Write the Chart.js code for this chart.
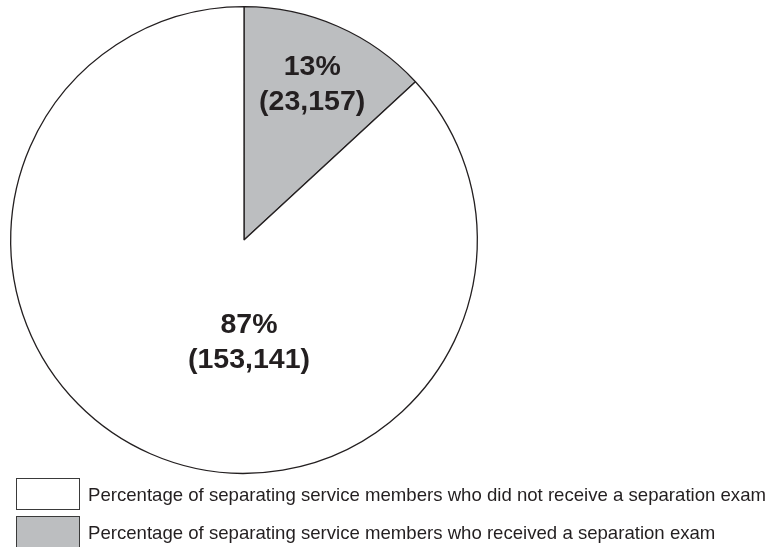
<!DOCTYPE html>
<html>
<head>
<meta charset="utf-8">
<script src="https://cdn.jsdelivr.net/npm/chart.js@4"></script>
<style>
  html, body { margin: 0; padding: 0; background: #ffffff; }
  #wrap { position: relative; width: 771px; height: 547px; overflow: hidden; }
  #c { position: absolute; left: 0; top: 0; }
  .lg-row { position: absolute; left: 16px; height: 32px; display: flex; align-items: center; }
  .lg-box { width: 62px; height: 30px; border: 1.5px solid #3a3a3a; box-sizing: content-box; }
  .lg-text { margin-left: 8px; font-family: "Liberation Sans", Arial, sans-serif; font-size: 18.6px; color: #231f20; white-space: nowrap; position: relative; top: 1px; }
</style>
</head>
<body>
<div id="wrap">
  <canvas id="c" width="771" height="547"></canvas>
  <div id="legend"></div>
</div>
<script>
// ---- data ----
const categories = [
  'Percentage of separating service members who received a separation exam',
  'Percentage of separating service members who did not receive a separation exam'
];
const counts = [23157, 153141];
const percentLabels = ['13%', '87%'];
const countLabels = ['(23,157)', '(153,141)'];
const legendOrder = [1, 0];

// ---- styles ----
const fillColors = ['#bcbec0', '#ffffff'];
const edgeColor = '#231f20';
// label placement: [angle from top (deg, clockwise), fraction of radius]
const labelPlacement = [[23.6, 0.73], [177.2, 0.438]];

const labelPlugin = {
  id: 'sliceLabels',
  afterDatasetsDraw(chart) {
    const ctx = chart.ctx;
    const meta = chart.getDatasetMeta(0);
    ctx.save();
    ctx.fillStyle = '#231f20';
    ctx.font = 'bold 28.5px "Liberation Sans", Arial, sans-serif';
    ctx.textAlign = 'center';
    ctx.textBaseline = 'middle';
    meta.data.forEach((arc, i) => {
      const [deg, frac] = labelPlacement[i];
      const a = deg * Math.PI / 180;
      const d = arc.outerRadius * frac;
      const x = arc.x + d * Math.sin(a);
      const y = arc.y - d * Math.cos(a);
      ctx.fillText(percentLabels[i], x, y - 17);
      ctx.fillText(countLabels[i], x, y + 18);
    });
    ctx.restore();
  }
};

new Chart(document.getElementById('c'), {
  type: 'pie',
  data: {
    labels: categories,
    datasets: [{
      data: counts,
      backgroundColor: fillColors,
      borderColor: edgeColor,
      borderWidth: 1.3,
      borderAlign: 'center'
    }]
  },
  options: {
    responsive: false,
    animation: false,
    rotation: 0,
    layout: { padding: { left: 10, top: 6, right: 293, bottom: 73 } },
    plugins: {
      legend: { display: false },
      tooltip: { enabled: false }
    }
  },
  plugins: [labelPlugin]
});

// ---- HTML legend ----
const legendEl = document.getElementById('legend');
const rowTops = [478, 516];
legendOrder.forEach((idx, k) => {
  const row = document.createElement('div');
  row.className = 'lg-row';
  row.style.top = rowTops[k] + 'px';
  const box = document.createElement('div');
  box.className = 'lg-box';
  box.style.background = fillColors[idx];
  const txt = document.createElement('div');
  txt.className = 'lg-text';
  txt.textContent = categories[idx];
  row.appendChild(box);
  row.appendChild(txt);
  legendEl.appendChild(row);
});
</script>
</body>
</html>
